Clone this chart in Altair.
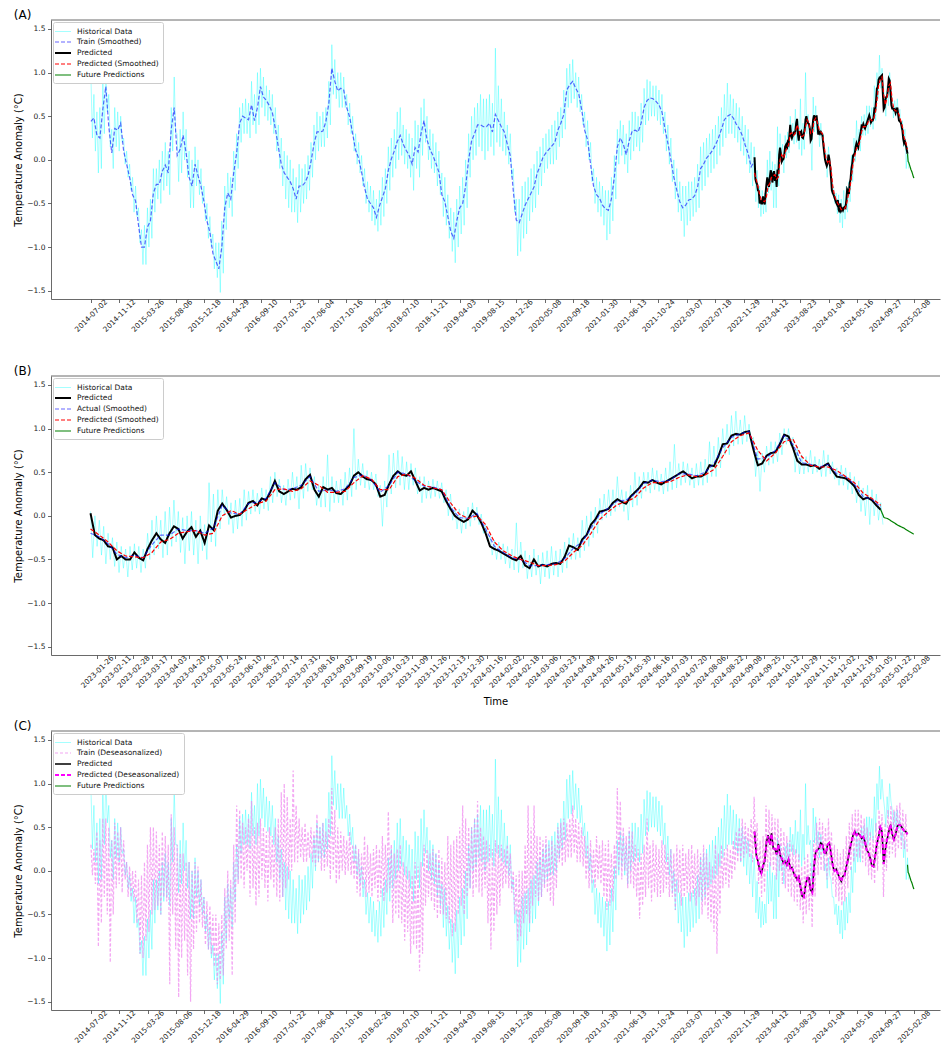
import altair as alt
import pandas as pd

# ---------------- data ----------------
# 14-day grid starting 2014-07-02 (train period)
smooth_train = [0.44,0.48,0.28,0.25,0.58,0.84,0.38,0.08,0.36,0.34,
 0.42,0.10,-0.05,-0.20,-0.40,-0.47,-0.75,-1.00,-1.00,-0.77,
 -0.70,-0.38,-0.28,-0.28,-0.13,-0.06,-0.15,0.35,0.60,0.05,
 0.12,0.28,0.08,-0.20,-0.30,-0.05,-0.18,-0.30,-0.48,-0.70,
 -0.83,-1.07,-1.16,-1.25,-1.00,-0.55,-0.38,-0.45,-0.15,0.08,
 0.42,0.50,0.48,0.46,0.63,0.45,0.60,0.84,0.72,0.68,
 0.62,0.54,0.36,0.15,-0.05,-0.15,-0.20,-0.25,-0.33,-0.45,
 -0.30,-0.30,-0.26,-0.18,-0.02,0.18,0.32,0.32,0.33,0.44,
 0.65,1.05,0.90,0.79,0.82,0.80,0.60,0.49,0.30,0.11,
 0.02,-0.14,-0.32,-0.45,-0.50,-0.55,-0.66,-0.53,-0.43,-0.33,
 -0.12,0.01,0.10,0.21,0.28,0.18,0.11,0.05,-0.05,0.14,
 0.09,0.30,0.45,0.23,0.12,0.05,-0.04,-0.14,-0.40,-0.48,
 -0.65,-0.82,-0.90,-0.70,-0.55,-0.50,-0.30,0.00,0.22,0.30,
 0.40,0.40,0.38,0.38,0.42,0.32,0.52,0.45,0.38,0.32,
 0.18,0.05,-0.35,-0.69,-0.72,-0.62,-0.52,-0.45,-0.38,-0.31,
 -0.16,-0.07,0.03,0.08,0.12,0.16,0.20,0.34,0.42,0.52,
 0.80,0.86,0.90,0.82,0.76,0.58,0.34,0.23,-0.05,-0.30,
 -0.40,-0.44,-0.52,-0.56,-0.58,-0.45,-0.20,0.15,0.25,0.18,
 0.06,0.22,0.33,0.34,0.32,0.42,0.60,0.68,0.71,0.70,
 0.67,0.63,0.55,0.36,0.19,0.00,-0.20,-0.35,-0.48,-0.55,
 -0.52,-0.46,-0.45,-0.41,-0.31,-0.10,-0.05,0.02,0.06,0.11,
 0.17,0.25,0.35,0.46,0.50,0.52,0.48,0.41,0.36,0.28,
 0.17,0.07,-0.08,-0.02]

hist_hi_train = [0.95,0.75,0.55,0.60,0.95,1.05,0.75,0.35,0.60,0.55,
 0.50,0.25,0.10,-0.05,-0.20,-0.30,-0.55,-0.80,-0.75,-0.55,
 -0.45,-0.10,-0.10,0.00,0.10,0.20,0.10,0.60,0.95,0.30,
 0.35,0.55,0.35,0.10,0.00,0.15,0.00,-0.10,-0.30,-0.50,
 -0.65,-0.85,-0.95,-0.95,-0.70,-0.30,-0.15,-0.20,0.10,0.30,
 0.60,0.65,0.70,0.65,0.90,0.75,1.00,1.05,0.95,0.85,
 0.80,0.75,0.60,0.40,0.25,0.10,0.05,0.00,-0.10,-0.20,
 -0.05,-0.10,-0.05,0.05,0.20,0.40,0.55,0.50,0.55,0.60,
 0.90,1.32,1.15,1.00,1.00,0.95,0.75,0.65,0.50,0.30,
 0.20,0.05,-0.10,-0.25,-0.30,-0.35,-0.45,-0.35,-0.20,-0.10,
 0.15,0.25,0.35,0.55,0.60,0.40,0.35,0.30,0.25,0.45,
 0.40,0.60,0.70,0.50,0.35,0.30,0.20,0.10,-0.15,-0.20,
 -0.40,-0.55,-0.60,-0.45,-0.30,-0.20,0.00,0.30,0.50,0.60,
 0.65,0.75,0.70,0.70,0.75,0.65,1.28,0.85,0.70,0.55,
 0.40,0.30,-0.10,-0.45,-0.45,-0.30,-0.25,-0.20,-0.10,-0.05,
 0.10,0.15,0.25,0.30,0.35,0.40,0.45,0.55,0.60,0.80,
 1.05,1.10,1.15,1.00,0.95,0.75,0.55,0.45,0.20,-0.10,
 -0.20,-0.25,-0.30,-0.35,-0.35,-0.20,0.05,0.35,0.45,0.40,
 0.30,0.45,0.55,0.55,0.50,0.65,0.82,0.92,0.90,0.85,
 0.85,0.80,0.75,0.55,0.40,0.25,0.00,-0.10,-0.25,-0.30,
 -0.30,-0.25,-0.25,-0.20,-0.05,0.15,0.20,0.25,0.30,0.35,
 0.40,0.50,0.60,0.75,0.88,0.75,0.70,0.65,0.60,0.50,
 0.40,0.35,0.20,0.15]

hist_lo_train = [0.25,0.10,-0.15,-0.10,0.30,0.55,0.15,-0.10,0.15,0.10,
 0.20,-0.05,-0.20,-0.35,-0.60,-0.65,-0.95,-1.20,-1.20,-1.00,
 -0.90,-0.60,-0.45,-0.50,-0.35,-0.30,-0.40,0.10,0.30,-0.25,
 -0.15,0.00,-0.20,-0.55,-0.55,-0.30,-0.40,-0.50,-0.70,-0.90,
 -1.00,-1.25,-1.35,-1.52,-1.30,-0.80,-0.55,-0.65,-0.35,-0.10,
 0.20,0.30,0.30,0.25,0.40,0.30,0.40,0.60,0.50,0.45,
 0.40,0.30,0.10,-0.10,-0.30,-0.45,-0.55,-0.60,-0.60,-0.72,
 -0.60,-0.50,-0.45,-0.35,-0.20,0.00,0.10,0.15,0.15,0.25,
 0.40,0.75,0.70,0.60,0.60,0.60,0.40,0.30,0.10,-0.05,
 -0.15,-0.30,-0.50,-0.60,-0.70,-0.75,-0.82,-0.75,-0.65,-0.50,
 -0.35,-0.20,-0.10,0.00,0.05,-0.05,-0.10,-0.20,-0.35,-0.10,
 -0.20,0.05,0.20,0.00,-0.10,-0.15,-0.30,-0.40,-0.65,-0.75,
 -0.90,-1.05,-1.18,-1.00,-0.85,-0.75,-0.55,-0.20,0.00,0.05,
 0.15,0.10,0.00,0.10,0.15,0.05,0.20,0.15,0.10,0.05,
 -0.05,-0.20,-0.60,-1.10,-1.05,-0.90,-0.85,-0.70,-0.60,-0.55,
 -0.40,-0.30,-0.15,-0.10,-0.05,-0.05,0.00,0.15,0.25,0.35,
 0.60,0.65,0.70,0.60,0.55,0.40,0.15,0.00,-0.25,-0.50,
 -0.60,-0.65,-0.75,-0.92,-0.85,-0.70,-0.45,-0.05,0.05,-0.05,
 -0.15,0.00,0.10,0.15,0.10,0.20,0.40,0.45,0.50,0.50,
 0.45,0.40,0.30,0.10,-0.05,-0.25,-0.45,-0.60,-0.70,-0.88,
 -0.75,-0.70,-0.65,-0.60,-0.55,-0.35,-0.30,-0.20,-0.15,-0.10,
 -0.05,0.05,0.15,0.25,0.30,0.30,0.25,0.20,0.10,0.05,
 -0.05,-0.15,-0.30,-0.25]

# 4-day grid starting 2023-01-20 (test period)
pred = [0.03,-0.22,-0.26,-0.28,-0.35,-0.36,-0.50,-0.46,-0.50,-0.50,
 -0.42,-0.48,-0.51,-0.38,-0.28,-0.20,-0.27,-0.31,-0.20,-0.12,
 -0.15,-0.26,-0.18,-0.13,-0.24,-0.17,-0.31,-0.11,-0.16,0.06,
 0.14,0.07,-0.02,0.00,0.01,0.06,0.15,0.17,0.12,0.20,
 0.18,0.28,0.40,0.28,0.25,0.28,0.31,0.30,0.33,0.42,
 0.47,0.30,0.22,0.33,0.30,0.32,0.26,0.25,0.30,0.35,
 0.46,0.50,0.45,0.42,0.41,0.36,0.22,0.24,0.36,0.46,
 0.51,0.47,0.46,0.51,0.40,0.29,0.32,0.30,0.32,0.30,
 0.28,0.17,0.08,0.00,-0.04,-0.07,-0.04,0.06,0.01,-0.08,
 -0.20,-0.35,-0.38,-0.40,-0.43,-0.46,-0.49,-0.51,-0.46,-0.57,
 -0.60,-0.50,-0.58,-0.56,-0.58,-0.55,-0.54,-0.55,-0.47,-0.34,
 -0.36,-0.39,-0.27,-0.22,-0.10,-0.04,0.05,0.06,0.08,0.15,
 0.19,0.16,0.14,0.22,0.27,0.32,0.39,0.38,0.41,0.38,
 0.36,0.39,0.42,0.45,0.48,0.51,0.47,0.43,0.45,0.45,
 0.48,0.58,0.57,0.68,0.82,0.83,0.92,0.94,0.93,0.96,
 0.97,0.76,0.58,0.60,0.69,0.72,0.73,0.82,0.93,0.91,
 0.78,0.63,0.59,0.59,0.57,0.58,0.54,0.57,0.60,0.52,
 0.45,0.44,0.43,0.39,0.34,0.24,0.19,0.21,0.18,0.12,
 0.07]

hist_hi_test = [0.05,0.00,-0.05,-0.12,-0.20,-0.25,-0.30,-0.35,-0.38,-0.35,
 -0.32,-0.35,-0.38,-0.20,-0.05,0.00,-0.05,0.05,0.10,0.18,
 0.05,-0.02,0.00,0.05,-0.05,0.00,-0.10,0.38,0.25,0.30,
 0.30,0.22,0.15,0.18,0.20,0.30,0.28,0.30,0.26,0.32,
 0.30,0.45,0.50,0.42,0.35,0.42,0.50,0.45,0.58,0.60,
 0.55,0.45,0.35,0.45,0.70,0.45,0.40,0.42,0.50,0.55,
 1.00,0.65,0.60,0.52,0.50,0.48,0.35,0.40,0.70,0.72,
 0.75,0.68,0.62,0.60,0.55,0.45,0.45,0.40,0.42,0.40,
 0.38,0.30,0.25,0.10,0.08,0.05,0.10,0.15,0.10,0.02,
 -0.10,-0.22,-0.28,-0.30,-0.32,-0.35,-0.38,-0.08,-0.30,-0.40,
 -0.45,-0.38,-0.45,-0.42,-0.40,-0.35,-0.40,-0.38,-0.30,-0.25,
 -0.20,-0.25,-0.05,0.00,0.05,0.10,0.20,0.25,0.30,0.30,
 0.45,0.30,0.28,0.35,0.50,0.45,0.50,0.50,0.55,0.52,
 0.48,0.55,0.62,0.82,0.60,0.62,0.60,0.55,0.60,0.62,
 0.65,0.85,0.80,0.90,1.00,1.05,1.15,1.20,1.10,1.15,
 1.05,0.90,0.75,0.72,0.80,0.85,0.85,0.95,1.00,1.00,
 0.90,0.80,0.70,0.68,0.75,0.68,0.65,0.75,0.70,0.62,
 0.55,0.58,0.55,0.50,0.45,0.40,0.32,0.35,0.30,0.25,
 0.15]

hist_lo_test = [-0.48,-0.35,-0.45,-0.55,-0.50,-0.58,-0.65,-0.60,-0.70,-0.62,
 -0.60,-0.65,-0.60,-0.50,-0.45,-0.38,-0.48,-0.45,-0.35,-0.30,
 -0.42,-0.55,-0.40,-0.45,-0.55,-0.40,-0.50,-0.30,-0.35,-0.15,
 0.00,-0.10,-0.20,-0.15,-0.12,-0.05,0.02,0.05,0.02,0.08,
 0.06,0.15,0.22,0.15,0.12,0.18,0.20,0.08,0.20,0.28,
 0.30,0.12,0.10,0.10,0.05,0.15,0.15,0.12,0.18,0.22,
 0.30,0.35,0.32,0.30,0.30,0.22,-0.12,0.10,0.25,0.32,
 0.35,0.30,0.30,0.35,0.25,0.15,0.20,0.20,0.22,0.20,
 0.15,0.00,-0.05,-0.15,-0.20,-0.15,-0.12,-0.05,-0.10,-0.20,
 -0.30,-0.45,-0.50,-0.50,-0.55,-0.60,-0.62,-0.65,-0.60,-0.72,
 -0.70,-0.68,-0.78,-0.70,-0.72,-0.68,-0.70,-0.65,-0.60,-0.50,
 -0.50,-0.48,-0.40,-0.35,-0.25,-0.20,-0.05,-0.02,0.00,0.05,
 0.10,0.05,-0.05,0.10,0.12,0.20,0.28,0.26,0.30,0.28,
 0.25,0.28,0.30,0.32,0.35,0.38,0.35,0.32,0.35,0.35,
 0.38,0.45,0.45,0.55,0.70,0.70,0.80,0.82,0.82,0.85,
 0.85,0.45,0.28,0.50,0.58,0.60,0.62,0.70,0.82,0.80,
 0.50,0.48,0.48,0.50,0.48,0.50,0.45,0.45,0.48,0.42,
 0.35,0.35,0.30,0.25,0.15,0.05,0.00,-0.10,0.00,-0.05,
 -0.10]

# 8-day grid starting 2023-01-20
smooth_actual_test = [-0.20,-0.24,-0.32,-0.44,-0.48,-0.45,-0.48,-0.33,-0.22,-0.22,
 -0.15,-0.17,-0.17,-0.20,-0.14,0.12,0.03,0.02,0.14,0.16,
 0.20,0.38,0.30,0.31,0.35,0.45,0.28,0.30,0.28,0.31,
 0.44,0.47,0.41,0.27,0.35,0.50,0.48,0.40,0.34,0.33,
 0.30,0.10,-0.02,-0.03,0.03,-0.15,-0.35,-0.42,-0.48,-0.50,
 -0.57,-0.57,-0.56,-0.55,-0.49,-0.37,-0.30,-0.14,0.02,0.09,
 0.17,0.18,0.25,0.37,0.41,0.39,0.41,0.48,0.48,0.46,
 0.50,0.60,0.78,0.90,0.94,0.97,0.65,0.67,0.75,0.92,
 0.82,0.61,0.59,0.56,0.59,0.48,0.45,0.36,0.22,0.19,
 0.10]

smooth_pred_test = [-0.15,-0.22,-0.30,-0.40,-0.46,-0.47,-0.48,-0.42,-0.30,-0.27,
 -0.20,-0.18,-0.17,-0.22,-0.20,0.00,0.06,0.02,0.08,0.14,
 0.17,0.30,0.31,0.28,0.31,0.40,0.35,0.27,0.27,0.28,
 0.38,0.46,0.42,0.30,0.30,0.45,0.48,0.43,0.35,0.32,
 0.30,0.15,0.02,-0.03,0.00,-0.10,-0.30,-0.40,-0.46,-0.50,
 -0.53,-0.57,-0.57,-0.56,-0.52,-0.42,-0.34,-0.20,-0.04,0.05,
 0.13,0.16,0.21,0.32,0.38,0.38,0.39,0.44,0.47,0.45,
 0.47,0.53,0.68,0.85,0.92,0.95,0.75,0.63,0.72,0.85,
 0.88,0.68,0.58,0.56,0.56,0.52,0.45,0.38,0.26,0.20,
 0.12]

# deseasonalized series (panel C), 14-day grid from 2014-07-02
des_hi = [0.30,0.25,0.45,0.35,0.60,0.60,0.50,0.35,0.55,0.45,
 0.50,0.35,0.10,0.05,0.00,0.00,-0.10,-0.05,0.10,0.30,
 0.50,0.50,0.45,0.30,0.45,0.40,0.30,0.65,0.50,0.30,
 0.20,0.20,0.10,0.10,0.00,0.10,0.05,-0.10,-0.30,-0.35,
 -0.40,-0.50,-0.50,-0.60,-0.50,-0.20,0.00,-0.10,0.30,0.75,
 0.70,0.55,0.50,0.60,0.80,0.50,0.55,0.60,0.50,0.45,
 0.50,0.40,0.50,0.60,0.90,1.00,0.85,0.60,1.15,0.75,
 0.60,0.50,0.55,0.45,0.50,0.45,0.65,0.50,0.55,0.45,
 0.60,0.95,0.70,0.50,0.45,0.40,0.35,0.45,0.30,0.30,
 0.25,0.20,0.40,0.30,0.20,0.25,0.30,0.25,0.40,0.30,
 0.68,0.30,0.20,0.25,0.30,0.10,0.05,0.00,-0.05,0.10,
 0.05,0.10,0.30,0.25,0.20,0.25,0.20,0.25,0.15,0.10,
 0.40,0.30,0.35,0.40,0.50,0.75,0.60,0.50,0.50,0.60,
 0.80,0.50,0.40,0.35,0.30,0.25,0.35,0.30,0.30,0.25,
 0.30,0.20,0.00,-0.05,0.00,0.00,0.30,0.75,0.50,0.75,
 0.40,0.40,0.35,0.40,0.30,0.35,0.30,0.50,0.55,0.60,
 0.55,0.60,0.75,0.60,0.55,0.50,0.40,0.30,0.35,0.25,
 0.40,0.30,0.35,0.30,0.35,0.20,0.30,0.95,0.80,0.50,
 0.40,0.50,0.45,0.30,0.25,0.20,0.30,0.60,0.30,0.35,
 0.30,0.25,0.35,0.30,0.20,0.25,0.20,0.30,0.25,0.30,
 0.20,0.25,0.30,0.20,0.25,0.20,0.30,0.20,0.10,0.05,
 0.30,0.20,0.30,0.25,0.30,0.25,0.35,0.45,0.50,0.60,
 0.55,0.50,0.60,0.85,0.55,0.35,0.40,0.75,0.70,0.65,
 0.60,0.60,0.50,0.45,0.40,0.35,0.30,0.25,0.20,0.05,
 0.15,0.20,0.10,0.35,0.55,0.60,0.55,0.50,0.60,0.45,
 0.30,0.25,0.20,0.25,0.40,0.55,0.65,0.70,0.70,0.65,
 0.60,0.50,0.45,0.40,0.55,0.70,0.65,0.55,0.70,0.75,
 0.70,0.75,0.78,0.70,0.65]

des_lo = [-0.05,-0.15,-0.87,-0.60,-0.30,-0.50,-1.05,-0.50,-0.20,-0.15,
 -0.25,-0.10,-0.30,-0.30,-0.35,-0.60,-0.95,-1.00,-0.80,-0.70,
 -0.50,-0.45,-0.40,-0.50,-0.30,-0.35,-1.30,-0.50,-0.90,-1.45,
 -1.00,-0.80,-1.20,-1.50,-0.90,-0.70,-0.60,-0.65,-0.85,-0.90,
 -0.95,-1.10,-1.30,-1.25,-1.20,-0.90,-0.80,-1.20,-0.60,-0.15,
 -0.10,-0.20,0.00,-0.30,-0.20,-0.40,-0.30,-0.10,-0.20,-0.35,
 -0.10,-0.20,-0.30,-0.35,-0.30,-0.20,-0.10,0.00,0.10,0.10,
 0.15,0.10,0.10,0.15,0.10,0.05,0.10,0.00,0.00,0.05,
 -0.10,0.00,-0.15,-0.10,0.00,-0.05,0.00,-0.05,-0.10,-0.25,
 -0.30,-0.20,-0.30,-0.25,-0.30,-0.20,-0.35,-0.30,-0.35,-0.25,
 -0.20,-0.60,-0.50,-0.55,-0.60,-0.80,-0.70,-0.95,-0.85,-0.90,
 -1.15,-0.95,-0.40,-0.30,-0.35,-0.45,-0.55,-0.50,-0.50,-0.55,
 -0.60,-0.75,-0.70,-0.50,-0.40,-0.50,-0.30,-0.20,-0.30,-0.20,
 -0.25,-0.30,-0.20,-0.60,-0.90,-0.70,-0.50,-0.40,-0.20,-0.15,
 -0.20,-0.25,-0.50,-0.80,-0.75,-0.60,-0.50,-0.60,-0.40,-0.30,
 -0.35,-0.30,-0.20,-0.25,-0.35,-0.40,-0.20,0.10,0.05,0.10,
 0.15,0.15,0.20,0.10,0.10,0.05,-0.10,-0.20,-0.15,-0.20,
 -0.10,-0.15,-0.30,-0.45,-0.40,-0.35,-0.10,0.00,-0.10,0.00,
 -0.20,-0.15,-0.20,-0.30,-0.55,-0.40,-0.30,-0.20,-0.35,-0.25,
 -0.30,-0.30,-0.25,-0.20,-0.30,-0.30,-0.45,-0.25,-0.40,-0.30,
 -0.25,-0.35,-0.30,-0.40,-0.30,-0.50,-0.40,-0.55,-0.60,-0.70,
 -0.95,-0.50,-0.20,-0.15,-0.20,-0.10,0.00,0.10,0.10,0.15,
 0.20,0.15,0.10,0.20,-0.15,-0.30,-0.25,0.00,0.05,0.00,
 -0.10,0.00,-0.15,-0.20,-0.25,-0.30,-0.35,-0.40,-0.45,-0.60,
 -0.50,-0.45,-0.65,-0.30,-0.05,0.00,0.00,-0.10,0.00,-0.15,
 -0.30,-0.35,-0.40,-0.35,-0.20,0.00,0.10,0.15,0.15,0.10,
 0.05,-0.05,-0.10,-0.15,0.00,0.20,-0.30,0.00,0.15,0.20,
 0.15,0.25,0.25,0.25,0.20]

# 8-day grid starting 2023-01-20 (panel C predictions)
pred_des = [0.45,0.18,0.11,0.01,-0.03,0.06,0.11,0.33,0.41,0.30,
 0.43,0.26,0.25,0.19,0.31,0.18,0.14,0.09,0.11,0.07,
 0.13,0.03,0.04,-0.02,-0.06,-0.10,-0.07,-0.18,-0.29,-0.30,
 -0.17,-0.08,-0.08,-0.22,-0.25,0.05,0.22,0.24,0.26,0.32,
 0.30,0.21,0.20,0.30,0.32,0.20,0.06,0.00,0.02,-0.03,
 -0.08,-0.12,-0.06,-0.05,0.05,0.13,0.25,0.33,0.41,0.45,
 0.41,0.43,0.41,0.37,0.39,0.33,0.24,0.21,0.15,0.06,
 0.05,0.17,0.31,0.39,0.50,0.45,0.08,0.25,0.36,0.45,
 0.53,0.42,0.36,0.42,0.51,0.53,0.52,0.49,0.46,0.45,
 0.42]
pred_des_smooth = [0.45,0.18,0.11,0.01,-0.03,0.06,0.12,0.33,0.40,0.30,
 0.42,0.26,0.25,0.19,0.30,0.18,0.14,0.09,0.11,0.07,
 0.13,0.03,0.04,-0.02,-0.06,-0.10,-0.07,-0.18,-0.28,-0.30,
 -0.17,-0.08,-0.08,-0.22,-0.25,0.05,0.22,0.24,0.26,0.31,
 0.30,0.21,0.20,0.30,0.32,0.20,0.06,0.00,0.02,-0.03,
 -0.08,-0.12,-0.06,-0.05,0.05,0.13,0.25,0.33,0.41,0.45,
 0.41,0.43,0.41,0.37,0.39,0.33,0.24,0.21,0.15,0.06,
 0.05,0.17,0.31,0.39,0.50,0.45,0.08,0.25,0.36,0.45,
 0.53,0.42,0.36,0.42,0.51,0.53,0.52,0.49,0.46,0.45,
 0.42]

future_dates = ["2025-01-09","2025-01-12","2025-01-15","2025-01-20",
                "2025-01-25","2025-01-30","2025-02-04","2025-02-08"]
future_vals = [0.07,-0.02,-0.03,-0.07,-0.11,-0.14,-0.18,-0.21]

ticks_long = ["2014-07-02","2014-11-12","2015-03-26","2015-08-06","2015-12-18",
 "2016-04-29","2016-09-10","2017-01-22","2017-06-04","2017-10-16","2018-02-26",
 "2018-07-10","2018-11-21","2019-04-03","2019-08-15","2019-12-26","2020-05-08",
 "2020-09-18","2021-01-30","2021-06-13","2021-10-24","2022-03-07","2022-07-18",
 "2022-11-29","2023-04-12","2023-08-23","2024-01-04","2024-05-16","2024-09-27",
 "2025-02-08"]
ticks_short = ["2023-01-26","2023-02-11","2023-02-28","2023-03-17","2023-04-03",
 "2023-04-20","2023-05-07","2023-05-24","2023-06-10","2023-06-27","2023-07-14",
 "2023-07-31","2023-08-16","2023-09-02","2023-09-19","2023-10-06","2023-10-23",
 "2023-11-09","2023-11-26","2023-12-13","2023-12-30","2024-01-16","2024-02-02",
 "2024-02-18","2024-03-06","2024-03-23","2024-04-09","2024-04-26","2024-05-13",
 "2024-05-30","2024-06-16","2024-07-03","2024-07-20","2024-08-06","2024-08-22",
 "2024-09-08","2024-09-25","2024-10-12","2024-10-29","2024-11-15","2024-12-02",
 "2024-12-19","2025-01-05","2025-01-22","2025-02-08"]
y_ticks = [-1.5, -1.0, -0.5, 0.0, 0.5, 1.0, 1.5]

# ---------------- build tables ----------------
train_dates = pd.date_range("2014-07-02", periods=len(smooth_train), freq="14D")
test_dates = pd.date_range("2023-01-20", periods=len(pred), freq="4D")
test8_dates = pd.date_range("2023-01-20", periods=len(smooth_actual_test), freq="8D")
des_dates = pd.date_range("2014-07-02", periods=len(des_hi), freq="14D")


def zigzag(dates, hi, lo, half_days):
    d = list(dates) + list(dates + pd.Timedelta(days=half_days))
    v = list(hi) + list(lo)
    return pd.DataFrame({"date": d, "value": v}).sort_values("date").reset_index(drop=True)


def tab(dates, vals, name):
    df = pd.DataFrame({"date": pd.to_datetime(list(dates)), "value": list(vals)})
    df["series"] = name
    return df


# full-resolution test-period history for the zoomed panel (B)
hist_test_df = zigzag(test_dates, hist_hi_test, hist_lo_test, 2)
hist_test_df["series"] = "Historical Data"
# same readings at the coarser long-view resolution for panels A and C
hist_full_df = pd.concat([
    zigzag(train_dates, hist_hi_train, hist_lo_train, 7),
    zigzag(test_dates[::3], hist_hi_test[::3], hist_lo_test[::3], 6),
]).sort_values("date").reset_index(drop=True)
hist_full_df["series"] = "Historical Data"
des_df = zigzag(des_dates, des_hi, des_lo, 7)
des_df["series"] = "Train (Deseasonalized)"

FONT = "DejaVu Sans"
W, H = 889, 279
YDOM = [-1.595, 1.603]
AX = "#444444"


def dt(s):
    y, m, d = (int(p) for p in s.split("-"))
    return alt.DateTime(year=y, month=m, date=d)


def panel(layers, names, colors, dashes, widths, opac, xdom, xticks, title, xtitle,
          title_line_height=None):
    leg = alt.Legend(title=None, orient="top-left", symbolType="M-1.6,0H1.6",
                     symbolSize=100)
    x = alt.X("date:T",
              scale=alt.Scale(domain=[dt(xdom[0]), dt(xdom[1])]),
              axis=alt.Axis(values=[dt(t) for t in xticks], format="%Y-%m-%d",
                            labelAngle=-45, labelAlign="center", labelBaseline="middle",
                            labelPadding=13, labelOverlap=False, labelFlush=False,
                            labelBound=False, labelFontSize=7.3, tickSize=3.5,
                            title=xtitle, titlePadding=8))
    y = alt.Y("value:Q", scale=alt.Scale(domain=YDOM, nice=False, zero=False),
              axis=alt.Axis(values=y_ticks, format=".1f", tickSize=3.5,
                            labelPadding=2.5, titlePadding=3,
                            title="Temperature Anomaly (°C)"))
    enc = dict(
        x=x, y=y,
        color=alt.Color("series:N", scale=alt.Scale(type="ordinal", domain=names, range=colors), legend=leg),
        strokeDash=alt.StrokeDash("series:N", scale=alt.Scale(type="ordinal", domain=names, range=dashes), legend=leg),
        strokeWidth=alt.StrokeWidth("series:N", scale=alt.Scale(type="ordinal", domain=names, range=widths), legend=leg),
        opacity=alt.Opacity("series:N", scale=alt.Scale(type="ordinal", domain=names, range=opac), legend=leg),
    )
    lays = [alt.Chart(df).mark_line(clip=True).encode(**enc) for df in layers]
    top = alt.Chart(pd.DataFrame({"t": [0]})).mark_rule(color=AX, strokeWidth=0.8).encode(
        x=alt.value(0), x2=alt.value(W), y=alt.value(0))
    tp = dict(text=title, anchor="start", fontSize=12, fontWeight="normal",
              font=FONT, offset=-2, color="#000000")
    if title_line_height is not None:
        tp["lineHeight"] = title_line_height
    return alt.layer(*lays, top).properties(width=W, height=H, title=alt.TitleParams(**tp))


SOLID = [1, 0]
DASH = [4, 2]

# Panel A
names_a = ["Historical Data", "Train (Smoothed)", "Predicted", "Predicted (Smoothed)", "Future Predictions"]
chart_a = panel(
    [hist_full_df,
     tab(train_dates, smooth_train, "Train (Smoothed)"),
     tab(test_dates, pred, "Predicted"),
     tab(test8_dates, smooth_pred_test, "Predicted (Smoothed)"),
     tab(future_dates, future_vals, "Future Predictions")],
    names_a, ["#00ffff", "#0000ff", "#000000", "#ff0000", "#008000"],
    [SOLID, DASH, SOLID, DASH, SOLID], [1.0, 1.2, 2.0, 1.2, 1.2], [0.35, 0.6, 1, 1, 1],
    ("2013-12-26", "2025-06-11"), ticks_long, "(A)", None)

# Panel B
names_b = ["Historical Data", "Predicted", "Actual (Smoothed)", "Predicted (Smoothed)", "Future Predictions"]
chart_b = panel(
    [hist_test_df,
     tab(test_dates, pred, "Predicted"),
     tab(test8_dates, smooth_actual_test, "Actual (Smoothed)"),
     tab(test8_dates, smooth_pred_test, "Predicted (Smoothed)"),
     tab(future_dates, future_vals, "Future Predictions")],
    names_b, ["#00ffff", "#000000", "#0000ff", "#ff0000", "#008000"],
    [SOLID, SOLID, DASH, DASH, SOLID], [1.0, 2.0, 1.2, 1.2, 1.2], [0.35, 1, 0.6, 1, 1],
    ("2022-12-15", "2025-03-04"), ticks_short, ["", "(B)"], "Time", title_line_height=19)

# Panel C
names_c = ["Historical Data", "Train (Deseasonalized)", "Predicted", "Predicted (Deseasonalized)", "Future Predictions"]
chart_c = panel(
    [hist_full_df,
     des_df,
     tab(test8_dates, pred_des, "Predicted"),
     tab(test8_dates, pred_des_smooth, "Predicted (Deseasonalized)"),
     tab(future_dates, future_vals, "Future Predictions")],
    names_c, ["#00ffff", "#ee82ee", "#000000", "#ff00ff", "#008000"],
    [SOLID, [3, 2], SOLID, DASH, SOLID], [1.0, 1.2, 1.5, 2.0, 1.2], [0.35, 0.7, 1, 1, 1],
    ("2013-12-26", "2025-06-11"), ticks_long, "(C)", None)

IND = dict(x="independent", color="independent", strokeDash="independent",
           strokeWidth="independent", opacity="independent")

chart = alt.vconcat(chart_a, chart_b, chart_c, spacing=12).resolve_scale(**IND).resolve_legend(
    color="independent", strokeDash="independent", strokeWidth="independent", opacity="independent"
).properties(
    padding={"left": 5, "top": 0, "right": 0, "bottom": 0}
).configure(font=FONT).configure_view(stroke=None).configure_axis(
    grid=False, domainColor=AX, domainWidth=0.8, tickColor=AX, tickWidth=0.8,
    labelFont=FONT, labelFontSize=7.5, labelColor="#222222",
    titleFont=FONT, titleFontSize=10, titleFontWeight="normal", titleColor="#000000"
).configure_legend(
    offset=2, padding=4, fillColor="#ffffff", strokeColor="#cccccc", cornerRadius=2,
    labelFont=FONT, labelFontSize=7.5, labelColor="#111111", labelOffset=8,
    rowPadding=1
)

chart.save("out.html", embed_options={"renderer": "svg", "actions": False})
